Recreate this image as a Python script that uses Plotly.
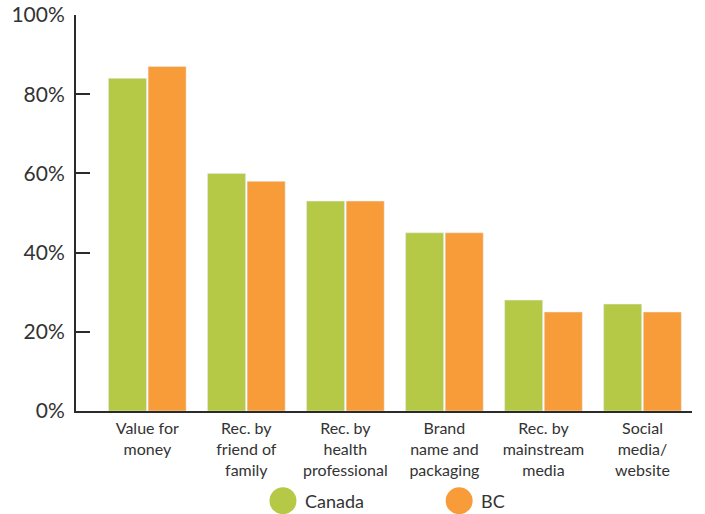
import plotly.graph_objects as go

categories = ["Value for<br>money", "Rec. by<br>friend of<br>family", "Rec. by<br>health<br>professional",
              "Brand<br>name and<br>packaging", "Rec. by<br>mainstream<br>media", "Social<br>media/<br>website"]
canada = [84, 60, 53, 45, 28, 27]
bc = [87, 58, 53, 45, 25, 25]
series_names = ["Canada", "BC"]
y_ticks = [0, 20, 40, 60, 80, 100]
y_tick_labels = ["0%", "20%", "40%", "60%", "80%", "100%"]

GREEN = "#B5C947"
ORANGE = "#F79C39"
TXT = "#333333"

fig = go.Figure()
fig.add_trace(go.Bar(x=categories, y=canada, name=series_names[0], marker_color=GREEN, showlegend=False))
fig.add_trace(go.Bar(x=categories, y=bc, name=series_names[1], marker_color=ORANGE, showlegend=False))

fig.update_layout(
    width=705, height=514,
    margin=dict(l=76, r=13, t=15, b=103),
    paper_bgcolor="white", plot_bgcolor="white",
    barmode="group", bargap=0.2, bargroupgap=0.04,
    font=dict(family="Lato", color=TXT),
    xaxis=dict(range=[-0.72, 5.5], showline=True, linecolor="#2b2b2b", linewidth=2,
               ticks="", tickfont=dict(size=16, color=TXT), showgrid=False, automargin=False,
               ticklabelstandoff=2),
    yaxis=dict(range=[0, 100], tickvals=y_ticks, ticktext=y_tick_labels, showline=True,
               linecolor="#2b2b2b", linewidth=2, ticks="inside", ticklen=14, tickwidth=2,
               tickcolor="#2b2b2b", showgrid=False, zeroline=False, automargin=False,
               tickfont=dict(size=21, color=TXT), ticklabelstandoff=5),
)

# legend drawn manually with circles
legend_items = [(series_names[0], GREEN, 0.336), (series_names[1], ORANGE, 0.622)]
for name, col, px in legend_items:
    fig.add_shape(type="circle", xref="paper", yref="paper", xsizemode="pixel", ysizemode="pixel",
                  xanchor=px, yanchor=-0.2265, x0=-13.5, x1=13.5, y0=-13.5, y1=13.5,
                  fillcolor=col, line=dict(width=0))
    fig.add_annotation(x=px, y=-0.2265, xref="paper", yref="paper", text=name, showarrow=False,
                       xanchor="left", yanchor="middle", xshift=20, font=dict(size=18, color=TXT))

fig.write_html("out.html", config={"displayModeBar": False},
               post_script="document.body.style.margin='0';")
